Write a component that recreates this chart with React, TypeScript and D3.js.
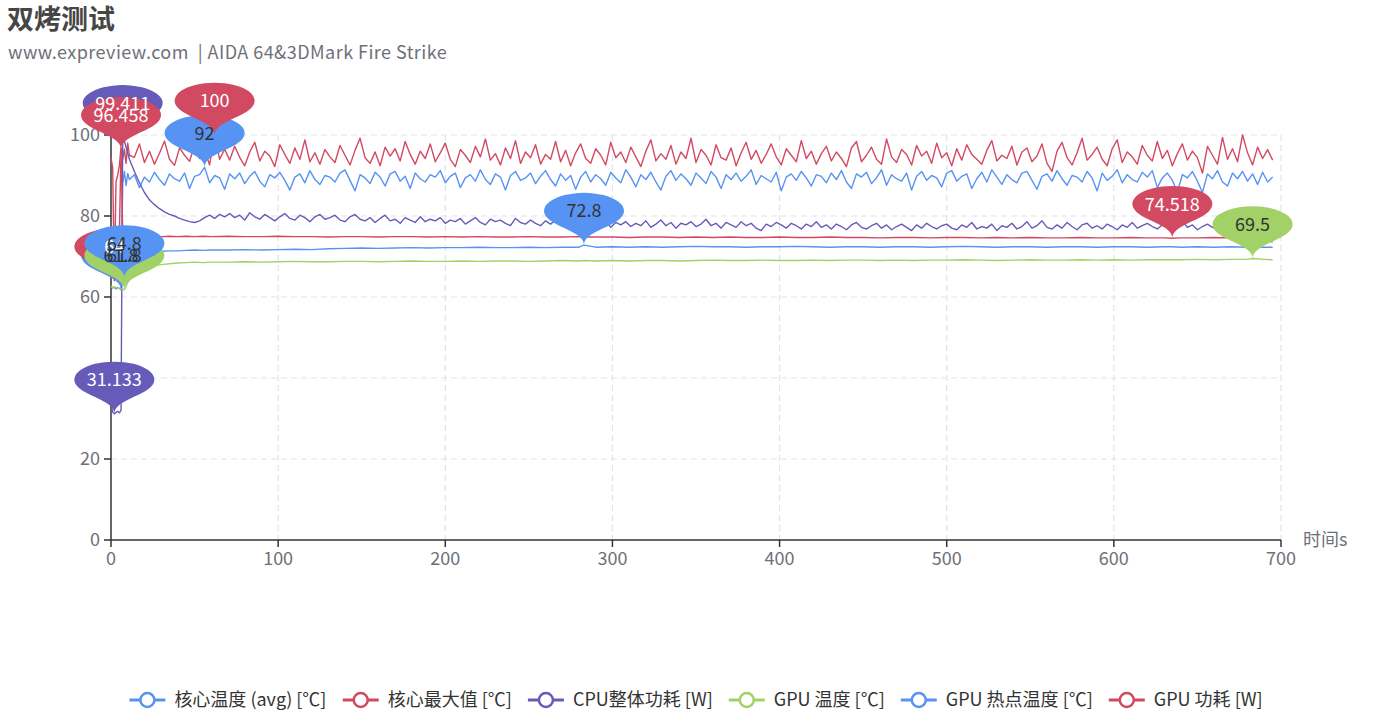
import React, { useMemo } from 'react';
import * as d3 from 'd3';

const titleText = '双烤测试';
const subtitleText = 'www.expreview.com  | AIDA 64&3DMark Fire Strike';
const xAxisName = '时间s';

const seriesNames = ['核心温度 (avg) [℃]', '核心最大值 [℃]', 'CPU整体功耗 [W]', 'GPU 温度 [℃]', 'GPU 热点温度 [℃]', 'GPU 功耗 [W]'];
const seriesColors = ['#5793f3', '#d14a61', '#675bba', '#a2d168', '#5793f3', '#d14a61'];
const labelColors = ['#333', '#fff', '#fff', '#333', '#333', '#fff'];

const xTicks = [0, 100, 200, 300, 400, 500, 600, 700];
const yTicks = [0, 20, 40, 60, 80, 100];

// time (s) for the noisy CPU series
const timeFine = [...d3.range(0, 12), ...d3.range(14, 696, 3)];

const coreAvg = [
  62.6, 62.2, 62.4, 62.0, 62.3, 62.1, 61.8, 88.0, 91.0, 87.5, 90.5, 89.0,
  90.2, 87.0, 89.6, 88.4, 90.8, 89.0, 87.6, 90.4, 89.2, 88.6, 90.6, 86.8, 89.8, 90.2, 92.0, 88.2, 90.0, 89.4, 86.6, 90.4,
  89.2, 90.6, 88.0, 89.8, 91.0, 88.6, 87.2, 90.2, 89.4, 90.8, 88.8, 86.4, 89.6, 90.4, 88.2, 91.2, 89.0, 87.8, 90.0, 89.6,
  88.4, 90.6, 91.4, 88.8, 86.2, 90.2, 89.4, 88.0, 90.8, 89.6, 87.4, 90.4, 91.0, 88.6, 89.8, 86.8, 90.6, 89.2, 88.4, 90.2,
  89.6, 91.2, 88.2, 89.8, 90.6, 87.0, 89.4, 90.2, 88.6, 91.4, 89.0, 87.8, 90.4, 89.6, 86.4, 90.0, 91.0, 88.8, 89.4, 90.6,
  88.0, 89.8, 91.2, 89.0, 87.4, 90.4, 88.8, 90.0, 86.6, 89.6, 91.0, 88.4, 90.2, 89.2, 87.6, 90.8, 89.4, 88.2, 91.4, 89.6,
  87.2, 90.2, 89.0, 90.8, 88.4, 86.4, 89.8, 91.2, 88.8, 90.4, 89.2, 87.6, 90.6, 89.4, 88.0, 91.0, 89.6, 86.8, 90.2, 89.0,
  90.6, 88.6, 89.8, 91.4, 87.8, 90.0, 89.2, 88.4, 90.8, 86.2, 89.6, 90.4, 88.8, 91.0, 89.4, 87.4, 90.2, 89.8, 88.2, 90.6,
  89.0, 91.2, 88.4, 86.8, 90.4, 89.6, 90.8, 88.0, 89.4, 91.4, 87.6, 90.2, 89.2, 88.6, 90.6, 86.4, 89.8, 91.0, 88.8, 90.0,
  89.4, 87.2, 90.6, 91.2, 88.6, 89.8, 90.4, 86.8, 89.2, 90.8, 88.4, 91.4, 89.6, 87.8, 90.2, 89.0, 88.2, 90.6, 91.0, 88.8,
  86.6, 89.8, 90.4, 88.6, 91.2, 89.2, 87.6, 90.0, 89.6, 88.4, 91.0, 89.4, 86.2, 90.6, 88.8, 89.8, 91.4, 88.2, 90.2, 89.0,
  88.4, 90.8, 89.6, 91.2, 87.0, 89.4, 90.6, 88.8, 86.0, 90.2, 89.4, 91.0, 88.6, 85.8, 90.4, 89.2, 91.2, 88.4, 87.4, 90.6,
  89.2, 91.0, 88.6, 90.4, 87.8, 90.8, 88.4, 89.6,
];

const coreMax = [
  94.3, 92.0, 64.0, 88.5, 90.0, 92.5, 97.0, 94.0, 96.5, 93.0, 98.0, 95.0,
  94.5, 97.8, 93.2, 96.0, 92.8, 95.5, 98.5, 94.0, 92.5, 96.8, 95.0, 93.5, 97.5, 94.2, 96.3, 92.6, 100, 94.0, 96.5, 93.8,
  97.2, 94.5, 92.4, 95.8, 98.2, 93.6, 96.0, 94.8, 92.2, 97.6, 95.2, 93.0, 96.8, 94.0, 98.8, 93.4, 95.6, 92.8, 96.4, 94.6,
  93.2, 97.4, 95.0, 92.6, 96.2, 99.2, 94.4, 93.0, 95.8, 92.4, 97.0, 94.8, 96.6, 93.6, 98.4, 95.2, 92.8, 96.0, 94.2, 97.8,
  93.4, 95.6, 98.0, 94.0, 92.2, 96.4, 95.0, 93.2, 97.2, 94.6, 99.0, 93.8, 95.4, 92.6, 96.8, 94.2, 98.6, 93.0, 95.8, 94.4,
  97.6, 92.8, 95.2, 94.0, 98.4, 93.4, 96.2, 92.4, 95.6, 97.8, 94.2, 93.0, 96.6, 95.0, 92.6, 98.2, 94.4, 95.8, 93.2, 97.0,
  94.6, 92.2, 96.0, 98.8, 93.6, 95.4, 94.0, 97.4, 92.8, 95.8, 94.2, 99.2, 93.2, 96.4, 95.0, 92.6, 97.6, 94.4, 93.8, 96.8,
  92.4, 95.6, 98.2, 94.0, 96.2, 93.0, 95.2, 97.8, 94.6, 92.6, 96.6, 95.0, 93.4, 98.6, 94.2, 96.0, 92.8, 95.4, 97.2, 93.6,
  95.8, 94.2, 92.2, 96.8, 98.4, 93.4, 95.0, 97.0, 94.0, 92.8, 99.0, 94.6, 93.2, 96.4, 95.2, 92.6, 97.4, 94.8, 96.0, 93.0,
  98.0, 94.4, 95.6, 92.4, 96.6, 93.8, 97.6, 95.2, 94.0, 92.8, 96.2, 98.6, 93.6, 95.0, 94.2, 97.2, 92.6, 95.8, 96.8, 93.4,
  94.8, 97.8, 93.0, 91.0, 96.0, 98.2, 94.4, 92.6, 95.6, 99.2, 93.8, 95.2, 97.0, 94.0, 92.4, 96.6, 98.8, 93.2, 95.8, 94.6,
  92.8, 97.4, 95.0, 93.6, 98.4, 94.2, 96.2, 92.4, 95.4, 97.8, 93.8, 96.0, 94.4, 90.6, 97.2, 95.0, 92.8, 99.4, 94.0, 96.6,
  93.4, 100, 95.6, 92.6, 97.0, 94.2, 96.4, 93.8,
];

const cpuPower = [
  33.5, 31.6, 31.133, 31.5, 31.8, 31.4, 32.0, 99.411, 98.5, 97.0, 95.5, 94.0,
  91.0, 88.2, 85.8, 84.0, 82.8, 81.8, 81.0, 80.4, 80.0, 79.4, 79.0, 78.6, 78.4, 78.8, 79.6, 80.2, 79.4, 80.4, 79.8, 80.6,
  79.6, 80.2, 79.0, 80.8, 79.8, 79.2, 80.4, 79.6, 78.8, 79.8, 80.6, 79.4, 79.0, 80.2, 79.6, 78.6, 79.8, 80.4, 79.2, 79.6,
  80.2, 79.0, 78.6, 79.8, 80.4, 79.2, 78.8, 79.6, 78.4, 79.4, 80.2, 78.8, 79.2, 78.2, 79.6, 79.0, 78.4, 79.8, 78.6, 79.2,
  78.8, 79.6, 78.2, 79.0, 78.6, 79.4, 78.0, 78.8, 79.6, 78.4, 77.8, 79.2, 78.6, 79.0, 78.2, 77.6, 79.4, 78.4, 78.0, 79.0,
  78.2, 77.6, 78.8, 78.0, 79.0, 77.8, 78.4, 77.4, 78.6, 77.8, 78.2, 79.2, 77.6, 78.0, 78.8, 77.2, 78.4, 77.8, 78.6, 77.4,
  78.2, 77.6, 78.8, 77.2, 78.0, 79.0, 77.6, 78.4, 77.0, 78.2, 77.8, 78.6, 77.4, 78.0, 79.2, 77.6, 78.2, 77.0, 78.4, 77.8,
  77.2, 78.6, 77.6, 78.2, 77.0, 76.4, 78.0, 77.4, 78.4, 77.8, 77.0, 78.2, 77.6, 76.8, 78.0, 77.4, 78.6, 77.2, 77.8, 76.8,
  78.0, 77.4, 76.6, 77.8, 78.4, 77.2, 76.8, 77.6, 78.2, 77.0, 77.8, 76.6, 77.4, 78.0, 77.2, 76.4, 77.8, 77.0, 78.2, 77.4,
  76.8, 77.6, 78.0, 77.0, 76.6, 77.8, 77.2, 78.4, 76.8, 77.4, 77.0, 78.0, 76.4, 77.6, 77.2, 78.2, 76.8, 77.4, 78.6, 77.0,
  77.6, 78.8, 77.2, 76.8, 77.8, 77.0, 78.4, 77.4, 76.6, 77.8, 78.2, 77.0, 77.6, 76.8, 78.0, 77.4, 76.6, 77.8, 77.2, 78.4,
  77.0, 77.6, 78.2, 77.4, 76.8, 77.8, 77.2, 76.4, 77.6, 78.8, 77.2, 77.8, 76.6, 77.4, 78.0, 77.2, 76.8, 77.6, 77.2, 76.8,
  77.4, 76.6, 76.0, 75.2, 74.6, 74.2, 73.8, 73.6,
];

// time (s) for the smooth GPU series
const timeGpu = [
  0, 1, 2, 3, 4, 5, 6, 7, 8, 9, 10, 12, 14, 16, 18, 20, 23, 26, 30, 35, 40, 45, 50, 55, 60,
  70, 80, 90, 100, 110, 120, 130, 140, 150, 160, 170, 180, 190, 200, 210, 220, 230, 240, 250, 260, 270, 280, 283,
  290, 300, 310, 320, 330, 340, 350, 360, 370, 380, 390, 400, 410, 420, 430, 440, 450, 460, 470, 480, 490, 500,
  510, 520, 530, 540, 550, 560, 570, 580, 590, 600, 610, 620, 630, 635, 640, 650, 660, 670, 680, 683, 690, 695,
];

const gpuTemp = [
  62.6, 62.4, 62.5, 62.3, 62.2, 62.1, 62.0, 61.9, 61.8, 62.6, 63.6, 64.6, 65.4, 66.0, 66.5, 66.9, 67.3, 67.7, 68.0, 68.2, 68.4, 68.5, 68.6, 68.5, 68.6,
  68.6, 68.7, 68.6, 68.7, 68.8, 68.7, 68.7, 68.8, 68.8, 68.7, 68.8, 68.9, 68.8, 68.8, 68.9, 68.8, 68.9, 68.9, 68.8, 68.9, 69.0, 68.9, 69.0,
  68.9, 69.0, 68.9, 69.0, 69.0, 68.9, 69.0, 69.1, 69.0, 69.0, 69.1, 69.0, 69.0, 69.1, 69.0, 69.1, 69.1, 69.0, 69.1, 69.0,
  69.1, 69.1, 69.2, 69.1, 69.0, 69.1, 69.2, 69.1, 69.1, 69.2, 69.1, 69.2, 69.1, 69.2, 69.2, 69.2, 69.2, 69.3, 69.2, 69.3, 69.3, 69.5, 69.3, 69.2,
];

const gpuHotspot = [
  65.6, 65.4, 65.3, 65.2, 65.1, 65.0, 64.9, 64.9, 64.8, 66.8, 68.6, 69.8, 70.3, 70.6, 70.8, 71.0, 71.1, 71.2, 71.3, 71.4, 71.4, 71.5, 71.6, 71.5, 71.6,
  71.6, 71.7, 71.6, 71.7, 71.8, 71.7, 71.9, 72.0, 72.1, 72.0, 72.1, 72.2, 72.1, 72.2, 72.2, 72.3, 72.2, 72.2, 72.3, 72.2, 72.3, 72.3, 72.8,
  72.3, 72.4, 72.3, 72.4, 72.3, 72.4, 72.5, 72.4, 72.4, 72.3, 72.4, 72.4, 72.5, 72.4, 72.3, 72.4, 72.4, 72.3, 72.4, 72.4,
  72.3, 72.4, 72.5, 72.4, 72.3, 72.4, 72.4, 72.3, 72.4, 72.4, 72.3, 72.4, 72.4, 72.3, 72.4, 72.4, 72.3, 72.4, 72.3, 72.4, 72.3, 72.4, 72.3, 72.3,
];

const gpuPower = [
  75.2, 75.0, 75.1, 74.9, 75.0, 75.3, 96.458, 75.6, 75.1, 75.0, 74.9, 75.0, 74.9, 75.0, 74.9, 75.0, 74.9, 75.0, 74.9, 75.0, 74.9, 75.0, 74.9, 75.0, 74.9,
  75.0, 74.9, 74.9, 75.0, 74.9, 74.9, 74.8, 74.9, 74.9, 74.8, 74.9, 74.9, 74.8, 74.9, 74.8, 74.9, 74.8, 74.8, 74.9, 74.8, 74.8, 74.9, 74.8,
  74.8, 74.8, 74.7, 74.8, 74.8, 74.7, 74.8, 74.7, 74.8, 74.7, 74.7, 74.8, 74.7, 74.7, 74.8, 74.7, 74.7, 74.6, 74.7, 74.7,
  74.6, 74.7, 74.7, 74.6, 74.7, 74.6, 74.7, 74.6, 74.6, 74.7, 74.6, 74.6, 74.7, 74.6, 74.6, 74.518, 74.6, 74.6, 74.7, 74.6, 74.6, 74.6, 74.6, 74.6,
];

const seriesTimes = [timeFine, timeFine, timeFine, timeGpu, timeGpu, timeGpu];
const seriesValues = [coreAvg, coreMax, cpuPower, gpuTemp, gpuHotspot, gpuPower];

const FONT = "'Noto Sans CJK SC', 'Noto Sans', sans-serif";

// ECharts "pin" symbol in unit box (-1,-1,2,2), tip at (0,0)
function pinPath(cx: number, cy0: number, sx: number, sy: number) {
  const w = 1.2, h = 2, r = w / 2;
  const dy = (r * r) / (h - r);
  const cy = -h + r + dy;
  const angle = Math.asin(dy / r);
  const dx = Math.cos(angle) * r;
  const tanX = Math.sin(angle), tanY = Math.cos(angle);
  const cpLen = r * 0.6, cpLen2 = r * 0.7;
  const P = (x: number, y: number) => `${cx + x * sx},${cy0 + y * sy}`;
  return [
    `M${P(-dx, cy + dy)}`,
    `A${r * sx},${r * sy} 0 1 1 ${P(dx, cy + dy)}`,
    `C${P(dx - tanX * cpLen, cy + dy + tanY * cpLen)} ${P(0, -cpLen2)} ${P(0, 0)}`,
    `C${P(0, -cpLen2)} ${P(-dx + tanX * cpLen, cy + dy + tanY * cpLen)} ${P(-dx, cy + dy)}`,
    'Z',
  ].join(' ');
}

export default function App() {
  const W = 1392, H = 720;
  const x = d3.scaleLinear().domain([0, 700]).range([111, 1281]);
  const y = d3.scaleLinear().domain([0, 100]).range([540, 135]);

  const measure = useMemo(() => {
    const c = document.createElement('canvas').getContext('2d')!;
    c.font = `18px ${FONT}`;
    return (s: string) => c.measureText(s).width;
  }, []);

  const line = d3.line<[number, number]>().x(d => x(d[0])).y(d => y(d[1]));

  const pins: { x: number; y: number; v: number; color: string; text: string }[] = [];
  seriesValues.forEach((vals, i) => {
    const times = seriesTimes[i];
    const iMax = d3.maxIndex(vals);
    const iMin = d3.minIndex(vals);
    [iMax, iMin].forEach(k => {
      pins.push({ x: x(times[k]), y: y(vals[k]), v: vals[k], color: seriesColors[i], text: labelColors[i] });
    });
  });

  // legend layout
  const iconW = 36, iconGap = 9, itemGap = 16;
  const widths = seriesNames.map(n => iconW + iconGap + measure(n));
  const total = d3.sum(widths) + itemGap * (widths.length - 1);
  let lx = W / 2 - total / 2;
  const legendItems = seriesNames.map((n, i) => {
    const item = { x: lx, name: n, color: seriesColors[i] };
    lx += widths[i] + itemGap;
    return item;
  });

  const sxPin = 40 / 0.6, syPin = 30;

  return (
    <svg width={W} height={H} style={{ position: 'absolute', left: 0, top: 0, display: 'block', background: '#fff' }} fontFamily={FONT}>
      <text x={7} y={29} fontSize={27} fontWeight="bold" fill="#464646">{titleText}</text>
      <text x={8} y={59} fontSize={18} fill="#6e7079" letterSpacing={0.45} style={{ whiteSpace: 'pre' }}>{subtitleText}</text>

      {/* grid */}
      {yTicks.filter(t => t > 0).map(t => (
        <line key={'gy' + t} x1={111} x2={1281} y1={y(t)} y2={y(t)} stroke="#e0e3ea" strokeWidth={1.2} strokeDasharray="6 4" />
      ))}
      {xTicks.filter(t => t > 0).map(t => (
        <line key={'gx' + t} x1={x(t)} x2={x(t)} y1={135} y2={540} stroke="#e0e3ea" strokeWidth={1.2} strokeDasharray="6 4" />
      ))}

      {/* axes */}
      <line x1={111} x2={111} y1={135} y2={540} stroke="#333" strokeWidth={1.5} />
      <line x1={111} x2={1281} y1={540} y2={540} stroke="#333" strokeWidth={1.5} />
      {yTicks.map(t => (
        <g key={'yt' + t}>
          <line x1={104} x2={111} y1={y(t)} y2={y(t)} stroke="#333" strokeWidth={1.5} />
          <text x={100} y={y(t)} dy="0.35em" textAnchor="end" fontSize={18} fill="#6e7079">{t}</text>
        </g>
      ))}
      {xTicks.map(t => (
        <g key={'xt' + t}>
          <line x1={x(t)} x2={x(t)} y1={540} y2={547} stroke="#333" strokeWidth={1.5} />
          <text x={x(t)} y={559} dy="0.35em" textAnchor="middle" fontSize={18} fill="#6e7079">{t}</text>
        </g>
      ))}
      <text x={1303} y={540} dy="0.35em" fontSize={18} fill="#6e7079">{xAxisName}</text>

      {/* lines */}
      {seriesValues.map((vals, i) => (
        <path key={'s' + i} d={line(vals.map((v, k) => [seriesTimes[i][k], v]))!} fill="none" stroke={seriesColors[i]} strokeWidth={1.4} strokeLinejoin="round" />
      ))}

      {/* mark points */}
      {pins.map((p, i) => (
        <path key={'p' + i} d={pinPath(p.x, p.y, sxPin, syPin)} fill={p.color} />
      ))}
      {pins.map((p, i) => (
        <text key={'pl' + i} x={p.x} y={p.y - 34} dy="0.35em" textAnchor="middle" fontSize={18} fill={p.text}>{String(p.v)}</text>
      ))}

      {/* legend */}
      {legendItems.map((it, i) => (
        <g key={'lg' + i}>
          <line x1={it.x} x2={it.x + iconW} y1={700} y2={700} stroke={it.color} strokeWidth={3} />
          <circle cx={it.x + iconW / 2} cy={700} r={7} fill="#fff" stroke={it.color} strokeWidth={2.5} />
          <text x={it.x + iconW + iconGap} y={700} dy="0.35em" fontSize={18} fill="#333">{it.name}</text>
        </g>
      ))}
    </svg>
  );
}
